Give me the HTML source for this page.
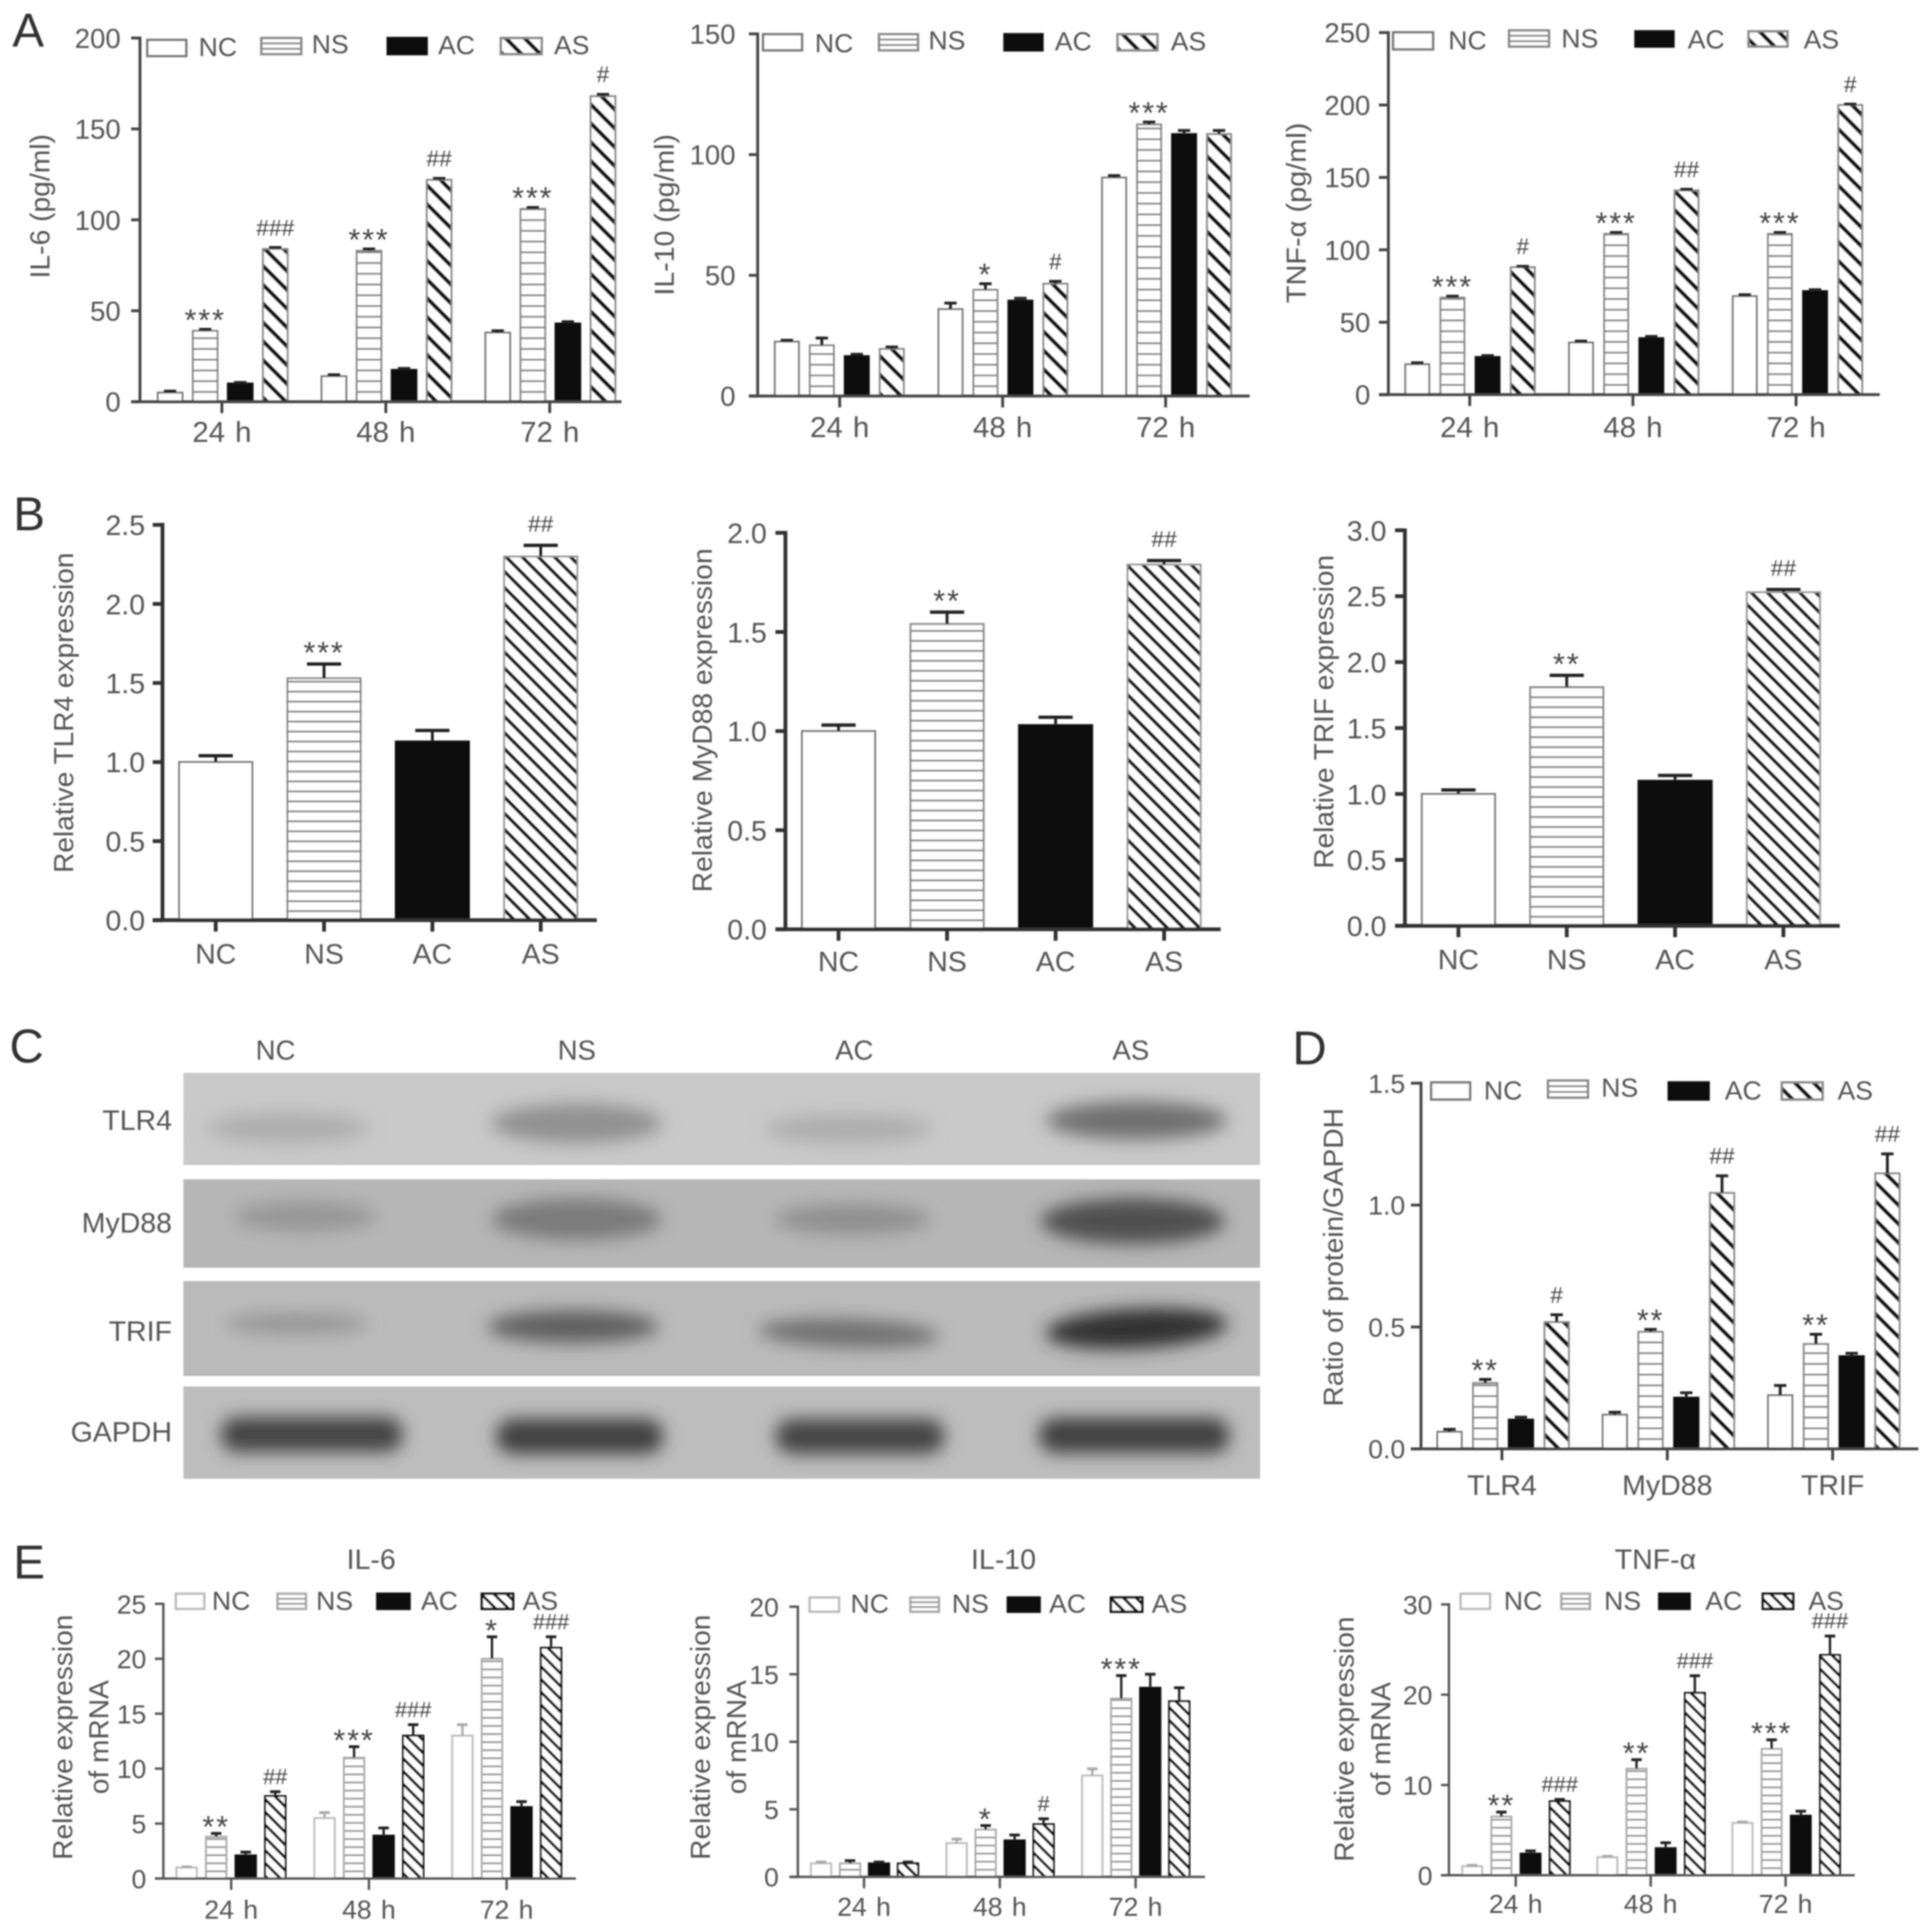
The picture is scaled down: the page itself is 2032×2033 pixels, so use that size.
<!DOCTYPE html>
<html lang="en">
<head>
<meta charset="utf-8">
<title>Cytokine and TLR pathway expression figure</title>
<style>
html,body{margin:0;padding:0;background:#fff}
svg{display:block}
text{font-family:"Liberation Sans",sans-serif;fill:#555}
</style>
</head>
<body>
<svg id="figure" xmlns="http://www.w3.org/2000/svg" width="2032" height="2033" viewBox="0 0 2032 2033">
<defs id="defs">
<filter id="soft" filterUnits="userSpaceOnUse" x="0" y="0" width="2032" height="2033"><feGaussianBlur stdDeviation="0.8"/></filter>
<filter id="band" x="-30%" y="-100%" width="160%" height="300%"><feGaussianBlur stdDeviation="9"/></filter>
</defs>
<rect width="2032" height="2033" fill="#fff"/>
<g id="root" filter="url(#soft)">
<text x="13" y="49" font-size="50" style="fill:#333">A</text>
<text x="14" y="558" font-size="50" style="fill:#333">B</text>
<text x="10" y="1118" font-size="50" style="fill:#333">C</text>
<text x="1360" y="1120" font-size="50" style="fill:#333">D</text>
<text x="14" y="1661" font-size="50" style="fill:#333">E</text>

<g>
<text x="290" y="1115" font-size="29" text-anchor="middle">NC</text>
<text x="607" y="1115" font-size="29" text-anchor="middle">NS</text>
<text x="899" y="1115" font-size="29" text-anchor="middle">AC</text>
<text x="1190" y="1115" font-size="29" text-anchor="middle">AS</text>
<text x="181" y="1189" font-size="30" text-anchor="end">TLR4</text>
<text x="181" y="1297" font-size="30" text-anchor="end">MyD88</text>
<text x="181" y="1411" font-size="30" text-anchor="end">TRIF</text>
<text x="181" y="1517" font-size="30" text-anchor="end">GAPDH</text>

<g>
<rect x="193" y="1129" width="1133" height="97" fill="#c9c9c9"/>
<ellipse cx="303" cy="1187" rx="85" ry="17" fill="#afafaf" filter="url(#band)"/>
<ellipse cx="607" cy="1182" rx="90" ry="21" fill="#919191" filter="url(#band)"/>
<ellipse cx="893" cy="1188" rx="88" ry="16" fill="#aeaeae" filter="url(#band)"/>
<ellipse cx="1196" cy="1179" rx="95" ry="20" fill="#707070" filter="url(#band)"/>
</g>
<g>
<rect x="193" y="1241" width="1133" height="93" fill="#b6b6b6"/>
<ellipse cx="321" cy="1280" rx="75" ry="16" fill="#969696" filter="url(#band)"/>
<ellipse cx="607" cy="1283" rx="90" ry="22" fill="#7a7a7a" filter="url(#band)"/>
<ellipse cx="897" cy="1283" rx="82" ry="16" fill="#8f8f8f" filter="url(#band)"/>
<ellipse cx="1192" cy="1285" rx="97" ry="24" fill="#505050" filter="url(#band)"/>
</g>
<g>
<rect x="193" y="1348" width="1133" height="100" fill="#bababa"/>
<ellipse cx="312" cy="1393" rx="75" ry="11" fill="#959595" filter="url(#band)"/>
<ellipse cx="603" cy="1396" rx="90" ry="17" fill="#5f5f5f" filter="url(#band)"/>
<ellipse cx="893" cy="1403" rx="95" ry="15" fill="#6f6f6f" filter="url(#band)" transform="rotate(2 893 1403)"/>
<ellipse cx="1196" cy="1398" rx="96" ry="21" fill="#333" filter="url(#band)" transform="rotate(-3 1196 1398)"/>
</g>
<g>
<rect x="193" y="1459" width="1133" height="97" fill="#bdbdbd"/>
<rect x="232" y="1491" width="192" height="37" rx="18" fill="#454545" filter="url(#band)"/>
<rect x="522" y="1493" width="176" height="37" rx="18" fill="#404040" filter="url(#band)"/>
<rect x="816" y="1493" width="178" height="37" rx="18" fill="#454545" filter="url(#band)"/>
<rect x="1093" y="1492" width="201" height="37" rx="18" fill="#404040" filter="url(#band)"/>
</g>
</g>
</g>
</svg>

<script>
// ---------- shared labels ----------
const seriesNames = ['NC', 'NS', 'AC', 'AS'];
const timeCategories = ['24 h', '48 h', '72 h'];
const proteinCategories = ['TLR4', 'MyD88', 'TRIF'];

// ---------- panel A: ELISA IL-6 ----------
const il6Ticks = ['0', '50', '100', '150', '200'];
const il6Nc = [5, 14, 38];
const il6Ns = [39, 83, 106];
const il6Ac = [10, 17.5, 43];
const il6As = [84, 122, 168];
const il6NcErr = [0.8, 0.8, 1];
const il6NsErr = [0.8, 1, 0.8];
const il6AcErr = [0.6, 0.8, 1];
const il6AsErr = [0.8, 0.8, 1];
const il6NsMarks = ['***', '***', '***'];
const il6AsMarks = ['###', '##', '#'];

// ---------- panel A: ELISA IL-10 ----------
const il10Ticks = ['0', '50', '100', '150'];
const il10Nc = [22.5, 36, 90.5];
const il10Ns = [21, 44, 112.5];
const il10Ac = [16.5, 39.5, 108.5];
const il10As = [19.5, 46.5, 108.5];
const il10NcErr = [0.6, 2.5, 0.8];
const il10NsErr = [3, 2.5, 1];
const il10AcErr = [0.8, 1, 1.5];
const il10AsErr = [0.8, 1, 1.5];
const il10NsMarks = ['', '*', '***'];
const il10AsMarks = ['', '#', ''];

// ---------- panel A: ELISA TNF-a ----------
const tnfTicks = ['0', '50', '100', '150', '200', '250'];
const tnfNc = [21, 36, 68];
const tnfNs = [67, 111, 111];
const tnfAc = [26, 39, 71.5];
const tnfAs = [88, 141, 200];
const tnfNcErr = [1, 1, 1];
const tnfNsErr = [1, 1, 1];
const tnfAcErr = [1, 1.2, 1];
const tnfAsErr = [0.6, 0.8, 0.6];
const tnfNsMarks = ['***', '***', '***'];
const tnfAsMarks = ['#', '##', '#'];

// ---------- panel B ----------
const relCategories = ['NC', 'NS', 'AC', 'AS'];
const tlr4Ticks = ['0.0', '0.5', '1.0', '1.5', '2.0', '2.5'];
const tlr4Values = [1.0, 1.53, 1.13, 2.3];
const tlr4Errors = [0.04, 0.09, 0.07, 0.07];
const tlr4Marks = ['', '***', '', '##'];
const myd88Ticks = ['0.0', '0.5', '1.0', '1.5', '2.0'];
const myd88Values = [1.0, 1.54, 1.03, 1.84];
const myd88Errors = [0.03, 0.06, 0.04, 0.02];
const myd88Marks = ['', '**', '', '##'];
const trifTicks = ['0.0', '0.5', '1.0', '1.5', '2.0', '2.5', '3.0'];
const trifValues = [1.0, 1.81, 1.1, 2.53];
const trifErrors = [0.03, 0.09, 0.04, 0.02];
const trifMarks = ['', '**', '', '##'];

// ---------- panel D ----------
const ratioTicks = ['0.0', '0.5', '1.0', '1.5'];
const ratioNc = [0.07, 0.14, 0.22];
const ratioNs = [0.27, 0.48, 0.43];
const ratioAc = [0.12, 0.21, 0.38];
const ratioAs = [0.52, 1.05, 1.13];
const ratioNcErr = [0.01, 0.01, 0.04];
const ratioNsErr = [0.015, 0.01, 0.04];
const ratioAcErr = [0.01, 0.02, 0.012];
const ratioAsErr = [0.03, 0.07, 0.08];
const ratioNsMarks = ['**', '**', '**'];
const ratioAsMarks = ['#', '##', '##'];

// ---------- panel E: mRNA IL-6 ----------
const mIl6Ticks = ['0', '5', '10', '15', '20', '25'];
const mIl6Nc = [1, 5.5, 13];
const mIl6Ns = [3.8, 11, 20];
const mIl6Ac = [2.1, 3.9, 6.5];
const mIl6As = [7.5, 13, 21];
const mIl6NcErr = [0.05, 0.5, 1];
const mIl6NsErr = [0.3, 1, 2];
const mIl6AcErr = [0.3, 0.7, 0.5];
const mIl6AsErr = [0.4, 1, 1];
const mIl6NsMarks = ['**', '***', '*'];
const mIl6AsMarks = ['##', '###', '###'];

// ---------- panel E: mRNA IL-10 ----------
const mIl10Ticks = ['0', '5', '10', '15', '20'];
const mIl10Nc = [1, 2.5, 7.5];
const mIl10Ns = [1, 3.5, 13.2];
const mIl10Ac = [1, 2.7, 14];
const mIl10As = [1, 3.9, 13];
const mIl10NcErr = [0.1, 0.3, 0.5];
const mIl10NsErr = [0.2, 0.3, 1.7];
const mIl10AcErr = [0.1, 0.4, 1];
const mIl10AsErr = [0.1, 0.4, 1];
const mIl10NsMarks = ['', '*', '***'];
const mIl10AsMarks = ['', '#', ''];

// ---------- panel E: mRNA TNF-a ----------
const mTnfTicks = ['0', '10', '20', '30'];
const mTnfNc = [1, 2, 5.8];
const mTnfNs = [6.5, 11.8, 14];
const mTnfAc = [2.4, 3, 6.6];
const mTnfAs = [8.2, 20.2, 24.4];
const mTnfNcErr = [0.1, 0.1, 0.1];
const mTnfNsErr = [0.5, 1, 1];
const mTnfAcErr = [0.3, 0.6, 0.5];
const mTnfAsErr = [0.2, 1.9, 2.1];
const mTnfNsMarks = ['**', '**', '***'];
const mTnfAsMarks = ['###', '###', '###'];

// ---------- panel wiring (layout lives here, never in the data arrays) ----------
const bigTheme = {axis:3, axisColor:'#444', outline:'#777', outW:2, nsColor:'#858585', nsGap:11.3, nsW:2, asGap:14, asW:4.2, asOutline:'#888', capS:3, stem:3, capW:13, errNc:'#222', nsStroke:'#888', star:17, hash:21, markSize:32, hashSize:24};
const relTheme = {axis:4, axisColor:'#333', outline:'#777', outW:2, nsColor:'#858585', nsGap:10.5, nsW:2, asGap:12, asW:3.6, asOutline:'#999', capS:3.5, stem:3, capW:36, errNc:'#222', nsStroke:'#888', star:19, hash:23, markSize:32, hashSize:24};
const mrnaTheme = {axis:2.5, axisColor:'#555', outline:'#bbb', outW:2, nsColor:'#999', nsGap:8.5, nsW:2, asGap:9.5, asW:3, asOutline:'#111', capS:3, stem:2.5, capW:11, errNc:'#aaa', nsStroke:'#aaa', star:14, hash:16, markSize:32, hashSize:23};

const panels = [
 {id:'il6-elisa', theme:bigTheme, cats:timeCategories, ticks:il6Ticks, groups:[il6Nc, il6Ns, il6Ac, il6As], errs:[il6NcErr, il6NsErr, il6AcErr, il6AsErr], nsMarks:il6NsMarks, asMarks:il6AsMarks,
  ax:147.3, start:138, end:654, y0:422.7, yTop:40, first:179, step:36.9, pitch:172.4, bw:26, tick0:233.5, tickGap:172.5, catBase:465, catSize:31, tickSize:29, tickPad:11,
  titles:[{t:'IL-6 (pg/ml)', x:52, y:217, len:152, size:29}],
  legend:[[155,196,42,59,209,59],[275,317,40,57,328,56],[408,449,40,57,461,57],[527,570,40,57,583,57]], legendSize:28},
 {id:'il10-elisa', theme:bigTheme, cats:timeCategories, ticks:il10Ticks, groups:[il10Nc, il10Ns, il10Ac, il10As], errs:[il10NcErr, il10NsErr, il10AcErr, il10AsErr], nsMarks:il10NsMarks, asMarks:il10AsMarks,
  ax:797.3, start:788, end:1315, y0:416.7, yTop:35.7, first:828, step:36.8, pitch:172.2, bw:25.3, tick0:883.6, tickGap:171.5, catBase:460, catSize:31, tickSize:29, tickPad:14,
  titles:[{t:'IL-10 (pg/ml)', x:709, y:226, len:170, size:29}],
  legend:[[803,844,36,53,857.5,55],[925,966,36,53,977,52],[1057,1097,36,53,1110,53],[1176,1218,36,53,1232,53]], legendSize:28},
 {id:'tnf-elisa', theme:bigTheme, cats:timeCategories, ticks:tnfTicks, groups:[tnfNc, tnfNs, tnfAc, tnfAs], errs:[tnfNcErr, tnfNsErr, tnfAcErr, tnfAsErr], nsMarks:tnfNsMarks, asMarks:tnfAsMarks,
  ax:1461, start:1451, end:1978, y0:415.3, yTop:34.3, first:1491.4, step:37, pitch:172.3, bw:25.2, tick0:1546.6, tickGap:171.7, catBase:460, catSize:31, tickSize:29, tickPad:9,
  titles:[{t:'TNF-α (pg/ml)', x:1374, y:224, len:190, size:29}],
  legend:[[1466,1508,34,52,1524,52],[1588,1630,32,49,1643,50],[1721,1761,33,49,1776,51],[1840,1881,33,49,1898,51]], legendSize:28},

 {id:'tlr4-relative', single:true, theme:relTheme, cats:relCategories, ticks:tlr4Ticks, values:tlr4Values, valueErrs:tlr4Errors, marks:tlr4Marks,
  ax:171, start:160.7, end:628, y0:968.3, yTop:552.3, first:227, step:114, pitch:0, bw:77, catBase:1014, catSize:30, tickSize:30, tickPad:8,
  titles:[{t:'Relative TLR4 expression', x:77, y:750, len:337, size:29}]},
 {id:'myd88-relative', single:true, theme:relTheme, cats:relCategories, ticks:myd88Ticks, values:myd88Values, valueErrs:myd88Errors, marks:myd88Marks,
  ax:826.5, start:816, end:1284.5, y0:977.9, yTop:560.7, first:882.4, step:114.2, pitch:0, bw:77, catBase:1022, catSize:30, tickSize:30, tickPad:9,
  titles:[{t:'Relative MyD88 expression', x:749, y:758, len:362, size:29}]},
 {id:'trif-relative', single:true, theme:relTheme, cats:relCategories, ticks:trifTicks, values:trifValues, valueErrs:trifErrors, marks:trifMarks,
  ax:1478.4, start:1468, end:1936, y0:974.2, yTop:558, first:1534.7, step:114, pitch:0, bw:77, catBase:1020, catSize:30, tickSize:30, tickPad:9,
  titles:[{t:'Relative TRIF expression', x:1403, y:749, len:330, size:29}]},

 {id:'protein-ratio', theme:bigTheme, cats:proteinCategories, ticks:ratioTicks, groups:[ratioNc, ratioNs, ratioAc, ratioAs], errs:[ratioNcErr, ratioNsErr, ratioAcErr, ratioAsErr], nsMarks:ratioNsMarks, asMarks:ratioAsMarks,
  ax:1495.3, start:1484.7, end:2018.7, y0:1524.6, yTop:1139.8, first:1525.3, step:37.6, pitch:174, bw:25.6, tick0:1580.5, tickGap:174, catBase:1573, catSize:30, tickSize:28, tickPad:6,
  titles:[{t:'Ratio of protein/GAPDH', x:1413, y:1323, len:314, size:29}],
  legend:[[1506,1547,1139,1157,1561.5,1157],[1629,1671,1137,1155,1685,1154],[1756,1798,1139,1157,1815,1157],[1875,1918,1139,1157,1933.6,1157]], legendSize:28},

 {id:'il6-mrna', theme:mrnaTheme, heading:{t:'IL-6', x:390.6, y:1651}, cats:timeCategories, ticks:mIl6Ticks, groups:[mIl6Nc, mIl6Ns, mIl6Ac, mIl6As], errs:[mIl6NcErr, mIl6NsErr, mIl6AcErr, mIl6AsErr], nsMarks:mIl6NsMarks, asMarks:mIl6AsMarks,
  ax:171.9, start:163, end:606, y0:1976.7, yTop:1687.7, first:196.4, step:31.1, pitch:145.1, bw:21.5, tick0:243.3, tickGap:144.9, catBase:2019, catSize:28, tickSize:28, tickPad:9,
  titles:[{t:'Relative expression', x:76, y:1828, len:258, size:29},{t:'of mRNA', x:114, y:1828, len:120, size:29}],
  legend:[[185,215,1677,1693,223,1694],[292,322,1677,1693,332.6,1694],[397,431,1677,1693,443,1694],[507,540,1677,1693,550,1694]], legendSize:28},
 {id:'il10-mrna', theme:mrnaTheme, heading:{t:'IL-10', x:1056, y:1651}, cats:timeCategories, ticks:mIl10Ticks, groups:[mIl10Nc, mIl10Ns, mIl10Ac, mIl10As], errs:[mIl10NcErr, mIl10NsErr, mIl10AcErr, mIl10AsErr], nsMarks:mIl10NsMarks, asMarks:mIl10AsMarks,
  ax:839.6, start:830.6, end:1268, y0:1975, yTop:1690.7, first:864, step:30.5, pitch:142.7, bw:21.4, tick0:909.2, tickGap:142.9, catBase:2016, catSize:28, tickSize:28, tickPad:11,
  titles:[{t:'Relative expression', x:747, y:1828, len:258, size:29},{t:'of mRNA', x:785, y:1828, len:120, size:29}],
  legend:[[852,883,1681,1696,895,1697],[958,988,1681,1696,1001.6,1697],[1060.5,1094,1681,1696,1104,1697],[1169,1202,1681,1696,1212,1697]], legendSize:28},
 {id:'tnf-mrna', theme:mrnaTheme, heading:{t:'TNF-α', x:1742, y:1651}, cats:timeCategories, ticks:mTnfTicks, groups:[mTnfNc, mTnfNs, mTnfAc, mTnfAs], errs:[mTnfNcErr, mTnfNsErr, mTnfAcErr, mTnfAsErr], nsMarks:mTnfNsMarks, asMarks:mTnfAsMarks,
  ax:1524.7, start:1516.4, end:1951.7, y0:1973.3, yTop:1688.3, first:1549.2, step:30.7, pitch:142.2, bw:21, tick0:1595, tickGap:142, catBase:2013, catSize:28, tickSize:28, tickPad:9,
  titles:[{t:'Relative expression', x:1424.6, y:1830, len:258, size:29},{t:'of mRNA', x:1463, y:1830, len:120, size:29}],
  legend:[[1537,1568,1677,1693,1582.5,1694],[1643,1673,1677,1693,1688,1694],[1746,1778,1677,1693,1794.5,1694],[1855,1887,1677,1693,1903,1694]], legendSize:28}
];

// ---------- drawing ----------
const NS = 'http://www.w3.org/2000/svg';
const root = document.getElementById('root');
const defs = document.getElementById('defs');

function make(tag, attrs, parent) {
  const node = document.createElementNS(NS, tag);
  for (const k in attrs) node.setAttribute(k, attrs[k]);
  parent.appendChild(node);
  return node;
}
function label(str, attrs, parent) {
  const node = make('text', attrs, parent);
  node.textContent = str;
  return node;
}
function addPatterns(p) {
  const th = p.theme;
  const ns = make('pattern', {id:'ns-' + p.id, patternUnits:'userSpaceOnUse', x:0, y:p.y0, width:10, height:th.nsGap}, defs);
  make('rect', {width:10, height:th.nsGap, fill:'#fff'}, ns);
  make('rect', {y:0, width:10, height:th.nsW, fill:th.nsColor}, ns);
  const as = make('pattern', {id:'as-' + p.id, patternUnits:'userSpaceOnUse', width:th.asGap, height:th.asGap, patternTransform:'rotate(45)'}, defs);
  make('rect', {width:th.asGap, height:th.asGap, fill:'#fff'}, as);
  make('rect', {width:th.asGap, height:th.asW, fill:'#111'}, as);
}
function barStyle(p, s) {
  const th = p.theme;
  if (s === 0) return {fill:'#fff', stroke:th.outline};
  if (s === 1) return {fill:'url(#ns-' + p.id + ')', stroke:th.nsStroke};
  if (s === 2) return {fill:'#111', stroke:'#111'};
  return {fill:'url(#as-' + p.id + ')', stroke:th.asOutline};
}
function drawMark(p, gr, text, cx, top) {
  if (!text) return;
  const th = p.theme;
  const isStar = text.charAt(0) === '*';
  const size = isStar ? th.markSize : th.hashSize;
  const cy = top - (isStar ? th.star : th.hash);
  const base = isStar ? cy + size * 0.575 : cy + size * 0.35;
  const m = label(text, {x:cx, y:base, 'font-size':size, 'text-anchor':'middle', style:'fill:#444' + (isStar ? ';letter-spacing:2px' : '')}, gr);
  
  
}
function drawBar(p, gr, cx, value, err, s, mark, name) {
  const th = p.theme;
  const yScale = v => p.y0 - (v / Number(p.ticks[p.ticks.length - 1])) * (p.y0 - p.yTop);
  const top = yScale(value);
  const errTop = yScale(value + err);
  const style = barStyle(p, s);
  const bar = make('rect', {x:cx - p.bw / 2, y:top, width:p.bw, height:p.y0 - top, fill:style.fill, stroke:style.stroke, 'stroke-width':th.outW}, gr);
  
  
  const col = s === 0 ? th.errNc : '#222';
  const eg = make('g', {stroke:col, fill:'none'}, gr);
  
  
  make('line', {x1:cx, x2:cx, y1:top, y2:errTop, 'stroke-width':th.stem}, eg);
  make('line', {x1:cx - th.capW / 2, x2:cx + th.capW / 2, y1:errTop, y2:errTop, 'stroke-width':th.capS}, eg);
  drawMark(p, gr, mark, cx, errTop);
}
function drawPanel(p) {
  addPatterns(p);
  const th = p.theme;
  const gr = make('g', {}, root);
  
  
  const yMax = Number(p.ticks[p.ticks.length - 1]);
  const yScale = v => p.y0 - (v / yMax) * (p.y0 - p.yTop);

  if (p.single) {
    p.values.forEach((v, i) => {
      const cx = p.first + i * p.step;
      drawBar(p, gr, cx, v, p.valueErrs[i], i, p.marks[i], 'bar-' + p.id + '-' + p.cats[i].toLowerCase());
    });
  } else {
    p.groups.forEach((series, s) => {
      series.forEach((v, g) => {
        const cx = p.first + g * p.pitch + s * p.step;
        const mark = s === 1 ? p.nsMarks[g] : (s === 3 ? p.asMarks[g] : '');
        drawBar(p, gr, cx, v, p.errs[s][g], s, mark, 'bar-' + p.id + '-' + seriesNames[s].toLowerCase() + '-' + g);
      });
    });
  }

  // y axis
  const yAxis = make('g', {stroke:th.axisColor, 'stroke-width':th.axis}, gr);
  
  
  make('line', {x1:p.ax, x2:p.ax, y1:p.y0, y2:p.yTop - th.axis / 2}, yAxis);
  p.ticks.forEach(t => {
    const y = yScale(Number(t));
    make('line', {x1:p.start, x2:p.ax, y1:y, y2:y}, yAxis);
    const lab = label(t, {x:p.start - p.tickPad, y:y + p.tickSize * 0.36, 'font-size':p.tickSize, 'text-anchor':'end', stroke:'none'}, gr);
    
    
  });

  // x axis
  const xAxis = make('g', {stroke:th.axisColor, 'stroke-width':th.axis}, gr);
  
  
  make('line', {x1:p.start, x2:p.end, y1:p.y0, y2:p.y0}, xAxis);
  p.cats.forEach((c, i) => {
    const x = p.single ? p.first + i * p.step : p.tick0 + i * p.tickGap;
    make('line', {x1:x, x2:x, y1:p.y0, y2:p.y0 + 12}, xAxis);
    const lab = label(c, {x:x, y:p.catBase, 'font-size':p.catSize, 'text-anchor':'middle', style:'word-spacing:2px'}, gr);
    
    
  });

  // axis titles
  p.titles.forEach(t => {
    const lab = label(t.t, {x:t.x, y:t.y, 'font-size':t.size, 'text-anchor':'middle', textLength:t.len, lengthAdjust:'spacingAndGlyphs', transform:'rotate(-90 ' + t.x + ' ' + t.y + ')'}, gr);
    
    
  });

  if (p.heading) {
    const lab = label(p.heading.t, {x:p.heading.x, y:p.heading.y, 'font-size':30, 'text-anchor':'middle'}, gr);
    
    
  }

  // legend
  if (p.legend) {
    const lg = make('g', {}, gr);
    
    
    p.legend.forEach((e, s) => {
      const entry = make('g', {}, lg);
      
      
      const style = barStyle(p, s);
      const isNs = s === 1;
      make('rect', {x:e[0], y:e[2], width:e[1] - e[0], height:e[3] - e[2], fill:isNs ? '#fff' : style.fill, stroke:style.stroke, 'stroke-width':th.outW + 0.5}, entry);
      if (isNs) {
        const h = (e[3] - e[2]) / 3;
        make('line', {x1:e[0], x2:e[1], y1:e[2] + h, y2:e[2] + h, stroke:th.nsColor, 'stroke-width':2}, entry);
        make('line', {x1:e[0], x2:e[1], y1:e[2] + 2 * h, y2:e[2] + 2 * h, stroke:th.nsColor, 'stroke-width':2}, entry);
      }
      label(seriesNames[s], {x:e[4], y:e[5], 'font-size':p.legendSize}, entry);
    });
  }
}
panels.forEach(drawPanel);
</script>
</body>
</html>
